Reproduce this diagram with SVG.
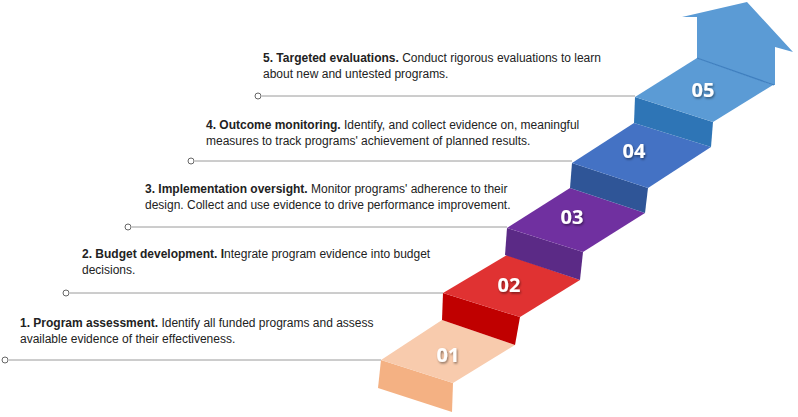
<svg xmlns="http://www.w3.org/2000/svg" width="798" height="417" viewBox="0 0 798 417">
<defs>
<filter id="sh" x="-20%" y="-20%" width="140%" height="140%"><feDropShadow dx="1" dy="1.5" stdDeviation="1" flood-color="#000" flood-opacity="0.45"/></filter>
</defs>
<style>
.t{font-family:"Liberation Sans",Arial,sans-serif;font-size:12px;fill:#222}
.b{font-weight:bold}
.n{font-family:"Open Sans","Liberation Sans",sans-serif;font-size:20px;font-weight:bold;fill:#fff;text-anchor:middle}
.ln{stroke:#9a9a9a;stroke-width:1;fill:none}
.c{fill:#fff;stroke:#666;stroke-width:1}
</style>
<g id="connectors">
<line class="ln" x1="262" y1="96" x2="635" y2="96"/><circle class="c" cx="258" cy="96" r="3"/>
<line class="ln" x1="195" y1="161" x2="572" y2="161"/><circle class="c" cx="191" cy="161" r="3"/>
<line class="ln" x1="132" y1="227" x2="507" y2="227"/><circle class="c" cx="128" cy="227" r="3"/>
<line class="ln" x1="70" y1="293" x2="443" y2="293"/><circle class="c" cx="66" cy="293" r="3"/>
<line class="ln" x1="9" y1="360" x2="381" y2="360"/><circle class="c" cx="5" cy="360" r="3"/>
</g>
<g id="step1">
<polygon points="381,360 453,383 452,412 378,388" fill="#F4B183"/>
<polygon points="381,360 442,320 515,345 453,383" fill="#F8CBAD"/>
<text class="n" x="448" y="362" filter="url(#sh)">01</text>
</g>
<g id="step2">
<polygon points="443,293 520,317 515,345 442,320" fill="#C00000"/>
<polygon points="443,293 507,255 580,280 520,317" fill="#E03232"/>
<text class="n" x="509" y="292" filter="url(#sh)">02</text>
</g>
<g id="step3">
<polygon points="507,228 583,252 580,280 505,255" fill="#5B2A86"/>
<polygon points="507,228 570,188 645,213 583,252" fill="#7030A0"/>
<text class="n" x="572" y="224" filter="url(#sh)">03</text>
</g>
<g id="step4">
<polygon points="572,163 648,188 645,213 570,188" fill="#2F5597"/>
<polygon points="572,163 634,123 711,147 648,188" fill="#4472C4"/>
<text class="n" x="634" y="158" filter="url(#sh)">04</text>
</g>
<g id="step5">
<polygon points="635,97 713,122 711,147 634,123" fill="#2E75B6"/>
<polygon points="635,97 697,58 773,85 713,122" fill="#5B9BD5"/>
<polygon points="697,58 697,17 682,17 747,2 793,52 775,47 775,85 773,85" fill="#5B9BD5"/>
<line x1="697" y1="58" x2="774" y2="85" stroke="#3f7fbf" stroke-width="1.2"/>
<text class="n" x="703" y="97" filter="url(#sh)">05</text>
</g>
<g id="text5"><text class="t" x="263" y="62"><tspan class="b">5. Targeted evaluations.</tspan> Conduct rigorous evaluations to learn</text><text class="t" x="263" y="78">about new and untested programs.</text></g>
<g id="text4"><text class="t" x="206" y="129"><tspan class="b">4. Outcome monitoring.</tspan> Identify, and collect evidence on, meaningful</text><text class="t" x="206" y="145">measures to track programs' achievement of planned results.</text></g>
<g id="text3"><text class="t" x="145" y="193"><tspan class="b">3. Implementation oversight.</tspan> Monitor programs' adherence to their</text><text class="t" x="145" y="209">design. Collect and use evidence to drive performance improvement.</text></g>
<g id="text2"><text class="t" x="82" y="258"><tspan class="b">2. Budget development. I</tspan>ntegrate program evidence into budget</text><text class="t" x="82" y="274">decisions.</text></g>
<g id="text1"><text class="t" x="20" y="327"><tspan class="b">1. Program assessment.</tspan> Identify all funded programs and assess</text><text class="t" x="20" y="343">available evidence of their effectiveness.</text></g>
</svg>
